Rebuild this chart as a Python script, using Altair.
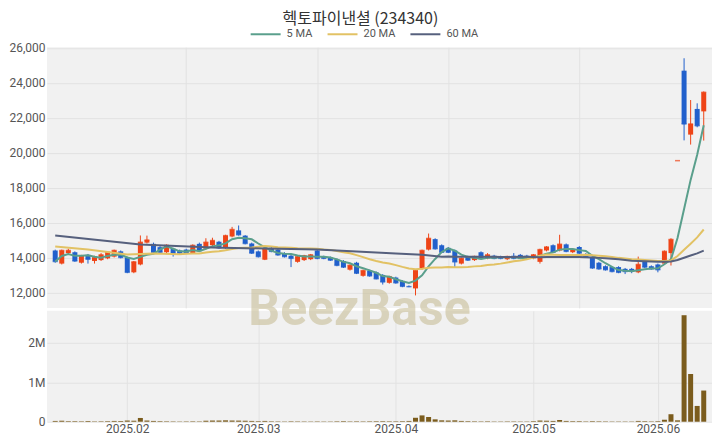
import altair as alt
import pandas as pd

# ---------------- data ----------------
opens = [14400, 13650, 14250, 14300, 13700, 14150, 13800, 13850, 13950, 14050,
         14350, 14000, 13150, 13600, 14850, 14780, 14590, 14300, 14500, 14400,
         14450, 14250, 14780, 14500, 14700, 14900, 14550, 15200, 15550, 15250,
         14800, 14350, 13870, 14550, 14450, 14250, 14100, 13750, 13850, 13900,
         14400, 14050, 14000, 13900, 13800, 13300, 13700, 12950, 13250, 13150,
         13000, 12550, 12850, 12650, 12350, 12230, 13350, 14450, 15050, 14700,
         14550, 14400, 13650, 14050, 13850, 14300, 13950, 14100, 14050, 13900,
         14100, 14150, 14100, 13950, 13750, 14400, 14700, 14400, 14750, 14300,
         14600, 14200, 14000, 13700, 13500, 13450, 13450, 13350, 13350, 13150,
         13800, 13500, 13600, 13650, 14250, 19540, 24690, 21030, 22500, 22360]
highs = [14450, 14450, 14500, 14350, 14150, 14200, 14100, 14250, 14350, 14450,
         14400, 14050, 13800, 15260, 15250, 14850, 14650, 14750, 14550, 14450,
         14500, 14750, 14850, 15100, 15130, 14950, 15300, 15750, 15830, 15280,
         14850, 14400, 14550, 14600, 14500, 14300, 14150, 14100, 14150, 14200,
         14450, 14100, 14050, 13950, 13850, 13600, 13750, 13300, 13300, 13200,
         13050, 12950, 12900, 12700, 12400, 13300, 14450, 15370, 15100, 14750,
         14600, 14450, 14000, 14100, 14100, 14350, 14250, 14150, 14100, 14100,
         14250, 14200, 14150, 14200, 14500, 14650, 14750, 15300, 14800, 14500,
         14650, 14250, 14050, 13750, 13550, 13500, 13500, 13400, 13400, 14050,
         13850, 13550, 13650, 14400, 15100, 19540, 25400, 23010, 22820, 23500]
lows = [13700, 13600, 14150, 13750, 13650, 13650, 13650, 13800, 13900, 14000,
        13950, 13100, 13100, 13550, 14800, 14250, 14250, 14250, 14050, 14200,
        14200, 14200, 14350, 14450, 14650, 14500, 14500, 15150, 15250, 14750,
        14200, 14000, 13850, 14300, 14100, 14000, 13450, 13700, 13800, 13850,
        13900, 13900, 13800, 13500, 13400, 13250, 13050, 12900, 12900, 12750,
        12450, 12500, 12500, 12300, 12300, 11830, 13300, 14400, 14450, 14250,
        14250, 13450, 13600, 13800, 13800, 13900, 13900, 13900, 13900, 13850,
        13900, 13900, 13900, 13900, 13650, 14350, 14250, 14350, 14300, 14250,
        14200, 14000, 13350, 13300, 13250, 13150, 13100, 13050, 13100, 13100,
        13400, 13300, 13150, 13600, 13540, 19540, 20700, 20460, 21450, 20690]
closes = [13770, 14400, 14400, 13800, 14100, 13900, 14000, 14150, 14300, 14400,
          14000, 13150, 13750, 14870, 15000, 14300, 14300, 14690, 14220, 14250,
          14250, 14690, 14400, 14870, 14970, 14550, 15250, 15600, 15300, 14800,
          14250, 14050, 14500, 14350, 14150, 14050, 13950, 14050, 14100, 14150,
          13950, 13950, 13850, 13550, 13450, 13550, 13100, 13250, 12950, 12780,
          12600, 12900, 12550, 12350, 12330, 13260, 14400, 15090, 14500, 14300,
          14300, 13750, 13950, 13850, 14050, 13950, 14150, 13950, 13950, 14050,
          13950, 13950, 13950, 14150, 14450, 14600, 14300, 14750, 14350, 14450,
          14250, 14050, 13400, 13350, 13300, 13200, 13150, 13200, 13220, 13600,
          13450, 13350, 13300, 14350, 15030, 19540, 21640, 21640, 21540, 23450]
volumes = [20000, 25000, 15000, 15000, 12000, 18000, 10000, 12000, 15000, 20000,
           18000, 30000, 25000, 95000, 30000, 20000, 15000, 12000, 10000, 8000,
           10000, 12000, 10000, 25000, 30000, 30000, 35000, 30000, 28000, 25000,
           20000, 15000, 20000, 12000, 10000, 8000, 12000, 10000, 9000, 8000,
           10000, 8000, 8000, 12000, 15000, 10000, 12000, 10000, 12000, 14000,
           15000, 12000, 12000, 15000, 20000, 100000, 160000, 120000, 60000, 35000,
           30000, 35000, 20000, 15000, 12000, 10000, 12000, 8000, 8000, 10000,
           10000, 8000, 8000, 15000, 30000, 25000, 20000, 45000, 20000, 15000,
           15000, 10000, 15000, 12000, 10000, 8000, 8000, 8000, 8000, 20000,
           15000, 10000, 15000, 50000, 190000, 35000, 2700000, 1210000, 400000, 790000]

# moving-average values read off the picture where the window is not complete
ma20_read_idx = [0, 5, 11, 15]
ma20_read_val = [14630, 14460, 14170, 14230]
ma60_read_idx = [0, 13, 24, 32, 40, 52, 56]
ma60_read_val = [15260, 14740, 14570, 14510, 14460, 14230, 14150]

month_ticks = [11, 31, 52, 73, 92]
month_labels = ["2025.02", "2025.03", "2025.04", "2025.05", "2025.06"]
price_grid_ticks = [20, 40, 60, 80]
price_ticks = [12000, 14000, 16000, 18000, 20000, 22000, 24000, 26000]
vol_ticks = [0, 1000000, 2000000]
series_names = ["5 MA", "20 MA", "60 MA"]
series_colors = ["#5a9f8c", "#e2c264", "#56607d"]
title_text = "헥토파이낸셜 (234340)"
watermark = "BeezBase"

# ---------------- frames ----------------
n = len(closes)
idx = list(range(n))
df = pd.DataFrame({"i": idx, "o": opens, "h": highs, "l": lows, "c": closes, "v": volumes})

cl = pd.Series(closes, dtype=float)
ma5 = cl.rolling(5, min_periods=1).mean()
ma20 = cl.rolling(20).mean()
ma60 = cl.rolling(60).mean()
rows = []
for i in idx:
    rows.append({"i": i, "val": float(ma5[i]), "s": "5 MA"})
for i, v in zip(ma20_read_idx, ma20_read_val):
    rows.append({"i": i, "val": v, "s": "20 MA"})
for i in range(19, n):
    rows.append({"i": i, "val": float(ma20[i]), "s": "20 MA"})
for i, v in zip(ma60_read_idx, ma60_read_val):
    rows.append({"i": i, "val": v, "s": "60 MA"})
for i in range(59, n):
    rows.append({"i": i, "val": float(ma60[i]), "s": "60 MA"})
ma_df = pd.DataFrame(rows)

RED = "#ee4417"
BLUE = "#2160cc"
VOL = "#7b5c1d"
GRID = "#e2e2e2"
BG = "#f1f1f1"
LBL = "#555555"
FONT = "Roboto"

W = 666
H1 = 261
H2 = 111
EXT = 38
XDOM = [-0.5, n - 0.5]
PX_PER_K = 17.5            # pixels per 1,000 won in the reference
P_TOP = 26030
P_BOT = P_TOP - H1 / PX_PER_K * 1000
V_MAX = H2 / 39.5 * 1000000

x_scale = alt.Scale(domain=XDOM, nice=False, zero=False)
x_price_axis = alt.Axis(values=price_grid_ticks, labels=False, ticks=False, domain=False,
                        grid=True, gridColor=GRID, title=None)
y_price_scale = alt.Scale(domain=[P_BOT, P_TOP], nice=False, zero=False)
y_price_axis = alt.Axis(values=price_ticks, format=",.0f", ticks=False, domain=False, grid=True,
                        gridColor=GRID, title=None, labelPadding=2, labelFontSize=12,
                        labelColor=LBL, labelFont=FONT, minExtent=EXT, maxExtent=EXT)

def px(field="i"):
    return alt.X(f"{field}:Q", scale=x_scale, axis=x_price_axis)

def py(field):
    return alt.Y(f"{field}:Q", scale=y_price_scale, axis=y_price_axis)

candle_color = alt.condition("datum.c >= datum.o", alt.value(RED), alt.value(BLUE))
base = alt.Chart(df)
wicks = base.mark_rule(strokeWidth=1).encode(x=px(), y=py("l"), y2="h:Q", color=candle_color)
bodies = base.mark_bar(size=5).encode(x=px(), y=py("o"), y2="c:Q", color=candle_color)
closes_tick = base.mark_tick(orient="horizontal", size=5, thickness=1.5).encode(
    x=px(), y=py("c"), color=candle_color)

lines = alt.Chart(ma_df).mark_line(strokeWidth=2).encode(
    x=px(), y=py("val"),
    color=alt.Color("s:N", scale=alt.Scale(domain=series_names, range=series_colors),
                    sort=series_names,
                    legend=alt.Legend(orient="none", legendX=203, legendY=-29,
                                      direction="horizontal", title=None,
                                      symbolType="stroke", symbolSize=900,
                                      symbolStrokeWidth=2, labelFontSize=11,
                                      labelColor=LBL, labelFont=FONT,
                                      columnPadding=11, labelOffset=5)),
    order="i:Q")

price = alt.layer(wicks, bodies, closes_tick, lines).properties(width=W, height=H1)

label_expr = " : ".join(
    [f"datum.value == {t} ? '{lab}'" for t, lab in zip(month_ticks, month_labels)]) + " : ''"
x_vol_axis = alt.Axis(values=month_ticks, labelExpr=label_expr, ticks=False, domain=False,
                      grid=True, gridColor=GRID, title=None, labelFontSize=12,
                      labelColor=LBL, labelFont=FONT, labelPadding=2)
y_vol_axis = alt.Axis(values=vol_ticks,
                      labelExpr="datum.value == 0 ? '0' : (datum.value / 1000000) + 'M'",
                      ticks=False, domain=False, grid=True, gridColor=GRID, title=None,
                      labelPadding=2, labelFontSize=12, labelColor=LBL, labelFont=FONT,
                      minExtent=EXT, maxExtent=EXT)

wm = alt.Chart(pd.DataFrame({"t": [watermark]})).mark_text(
    fontSize=50, fontWeight="bold", font=FONT, color="#c9bf98", opacity=0.6,
    align="center", baseline="middle").encode(text="t:N", x=alt.value(313), y=alt.value(-1))

vbars = alt.Chart(df).mark_bar(size=5, color=VOL).encode(
    x=alt.X("i:Q", scale=x_scale, axis=x_vol_axis),
    y=alt.Y("v:Q", scale=alt.Scale(domain=[0, V_MAX], nice=False), axis=y_vol_axis))

volume = alt.layer(wm, vbars).properties(width=W, height=H2)

chart = alt.vconcat(price, volume, spacing=3, bounds="flush").properties(
    title=alt.TitleParams(title_text, fontSize=16, font="Noto Sans CJK KR", fontWeight="normal",
                          color="#333333", anchor="middle", offset=-9),
    padding={"left": 0, "top": 3, "right": 0, "bottom": 0},
).configure_view(fill=BG, stroke=None)

chart.save("out.html", embed_options={"renderer": "svg", "actions": False})
